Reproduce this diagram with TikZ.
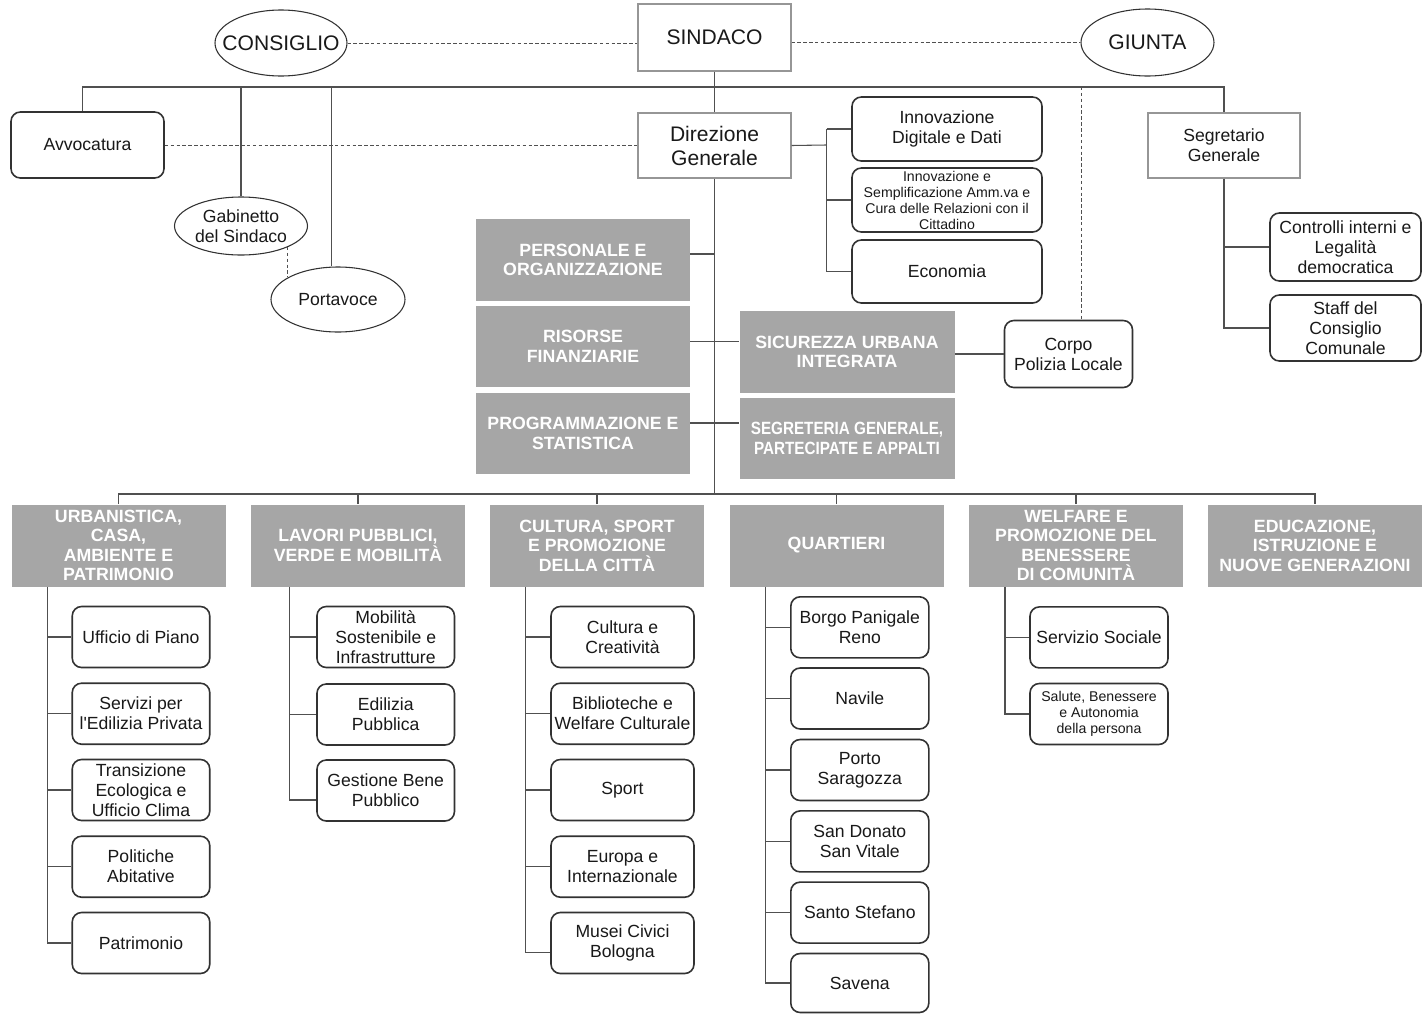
\documentclass[tikz,border=0pt]{standalone}
\usepackage{fontspec}
\setmainfont{Liberation Sans}
\newfontfamily\condfont[FakeStretch=0.86]{Liberation Sans}
\usetikzlibrary{shapes.geometric}
\definecolor{linec}{RGB}{80,80,80}
\definecolor{boxc}{RGB}{50,50,50}
\definecolor{plainc}{RGB}{150,150,150}
\definecolor{hdr}{RGB}{166,166,166}
\definecolor{txt}{RGB}{25,25,25}
\tikzset{
  conn/.style={draw=linec, line width=0.8pt},
  dline/.style={draw=linec, line width=0.6pt, dash pattern=on 2.6pt off 1.8pt},
  sz/.style 2 args={minimum width=#1*0.75pt, minimum height=#2*0.75pt},
  normfont/.style={font=\fontsize{13.2}{15}\selectfont},
  bigfont/.style={font=\fontsize{15.8}{18}\selectfont},
  smallfont/.style={font=\fontsize{10.6}{12}\selectfont},
  plainbox/.style={rectangle, draw=plainc, line width=0.8pt, inner sep=0pt, align=center, text=txt, normfont},
  rbox/.style={rectangle, draw=boxc, line width=1.2pt, rounded corners=7pt, inner sep=0pt, align=center, text=txt, normfont},
  gbox/.style={rectangle, fill=hdr, inner sep=0pt, align=center, text=white, font=\bfseries\fontsize{13.3}{14.6}\selectfont},
  ell/.style={ellipse, draw=boxc, line width=0.8pt, inner xsep=-12pt, inner ysep=0pt, align=center, text=txt, normfont},
}
\begin{document}
\begin{tikzpicture}[x=0.75pt,y=-0.75pt]
\fill[white] (0,0) rectangle (1422,1014);
\useasboundingbox (0,0) rectangle (1422,1014);

% ---------- top ----------
\node[plainbox, bigfont, sz={153}{67}] (sind) at (714.5,37.5) {SINDACO};
\node[ell, bigfont, sz={132}{66}] (cons) at (281,43) {CONSIGLIO};
\node[ell, bigfont, sz={133}{67}] (giun) at (1147.5,42.5) {GIUNTA};
\node[plainbox, bigfont, sz={153}{65}] (dirg) at (714.5,145.5) {Direzione\\Generale};
\node[rbox, sz={153}{66}] (avv) at (87.5,145) {Avvocatura};
\node[ell, sz={133}{58}] (gab) at (241,226) {Gabinetto\\del Sindaco};
\node[ell, sz={134}{65}] (port) at (338,299.5) {Portavoce};
\node[rbox, sz={190}{64}] (inn1) at (947,129) {Innovazione\\Digitale e Dati};
\node[rbox, smallfont, sz={190}{64}] (inn2) at (947,200) {Innovazione e\\Semplificazione Amm.va e\\Cura delle Relazioni con il\\Cittadino};
\node[rbox, sz={190}{63}] (eco) at (947,271.5) {Economia};
\node[plainbox, sz={152}{65}] (seg) at (1224,145.5) {Segretario\\Generale};
\node[rbox, sz={151}{68}] (ctrl) at (1345.5,247) {Controlli interni e\\Legalità\\democratica};
\node[rbox, sz={151}{66}] (staff) at (1345.5,328) {Staff del\\Consiglio\\Comunale};

% ---------- middle ----------
\node[gbox, sz={214}{82}] (pers) at (583,260) {PERSONALE E\\ORGANIZZAZIONE};
\node[gbox, sz={214}{81}] (ris) at (583,346.5) {RISORSE\\FINANZIARIE};
\node[gbox, sz={214}{81}] (prog) at (583,433.5) {PROGRAMMAZIONE E\\STATISTICA};
\node[gbox, sz={215}{82}] (sic) at (847,352) {SICUREZZA URBANA\\INTEGRATA};
\node[gbox, sz={215}{81}, font=\condfont\bfseries\fontsize{13.3}{15}\selectfont] (segr) at (847,438.5) {SEGRETERIA GENERALE,\\PARTECIPATE E APPALTI};
\node[rbox, sz={128}{67}] (corpo) at (1068.5,354) {Corpo\\Polizia Locale};

% ---------- bottom headers ----------
\node[gbox, sz={214}{82}] (urb) at (118.5,545.5) {URBANISTICA,\\CASA,\\AMBIENTE E\\PATRIMONIO};
\node[gbox, sz={214}{82}] (lav) at (358,545.5) {LAVORI PUBBLICI,\\VERDE E MOBILITÀ};
\node[gbox, sz={214}{82}] (cul) at (597,545.5) {CULTURA, SPORT\\E PROMOZIONE\\DELLA CITTÀ};
\node[gbox, sz={214}{82}] (qua) at (836.5,545.5) {QUARTIERI};
\node[gbox, sz={214}{82}] (wel) at (1076,545.5) {WELFARE E\\PROMOZIONE DEL\\BENESSERE\\DI COMUNITÀ};
\node[gbox, sz={214}{82}] (edu) at (1315,545.5) {EDUCAZIONE,\\ISTRUZIONE E\\NUOVE GENERAZIONI};

% ---------- sub boxes ----------
\node[rbox, sz={137.5}{61}] (up) at (141,637) {Ufficio di Piano};
\node[rbox, sz={137.5}{61}] (sep) at (141,713.7) {Servizi per\\l\textquotesingle Edilizia Privata};
\node[rbox, sz={137.5}{61}] (tran) at (141,790) {Transizione\\Ecologica e\\Ufficio Clima};
\node[rbox, sz={137.5}{61}] (pol) at (141,866.7) {Politiche\\Abitative};
\node[rbox, sz={137.5}{61}] (pat) at (141,943) {Patrimonio};

\node[rbox, sz={137.5}{61}] (mob) at (385.7,637) {Mobilità\\Sostenibile e\\Infrastrutture};
\node[rbox, sz={137.5}{61}] (edp) at (385.7,714.5) {Edilizia\\Pubblica};
\node[rbox, sz={137.5}{61}] (gbp) at (385.7,790.5) {Gestione Bene\\Pubblico};

\node[rbox, sz={143}{61}] (cc) at (622.5,637) {Cultura e\\Creatività};
\node[rbox, sz={143}{61}] (bib) at (622.5,713.7) {Biblioteche e\\Welfare Culturale};
\node[rbox, sz={143}{61}] (spo) at (622.5,790) {Sport};
\node[rbox, sz={143}{61}] (eur) at (622.5,866.7) {Europa e\\Internazionale};
\node[rbox, sz={143}{61}] (mus) at (622.5,943) {Musei Civici\\Bologna};

\node[rbox, sz={138}{61}] (borgo) at (859.8,627.3) {Borgo Panigale\\Reno};
\node[rbox, sz={138}{61}] (nav) at (859.8,698.5) {Navile};
\node[rbox, sz={138}{61}] (porto) at (859.8,770) {Porto\\Saragozza};
\node[rbox, sz={138}{61}] (sdon) at (859.8,841.4) {San Donato\\San Vitale};
\node[rbox, sz={138}{61}] (sst) at (859.8,912.6) {Santo Stefano};
\node[rbox, sz={138}{59}] (sav) at (859.8,983) {Savena};

\node[rbox, sz={138}{61}] (ss) at (1099,637.4) {Servizio Sociale};
\node[rbox, smallfont, sz={138}{61}] (sal) at (1099,714) {Salute, Benessere\\e Autonomia\\della persona};

% ---------- connectors: top ----------
\draw[dline] (cons.east) -- (sind.west |- cons.east);
\draw[dline] (sind.east |- giun.west) -- (giun.west);
\coordinate (bL) at (82.6,87);
\coordinate (bR) at (1224,87);
\draw[conn] (avv.north -| bL) -- (bL) -- (bR) -- (seg.north);
\draw[conn] (sind.south) -- (dirg.north);
\draw[conn] (gab.north) -- (gab.north |- bL);
\coordinate (pv) at (331.5,87);
\draw[conn] (pv) -- (pv |- port.north);
\draw[dline] ([shift={(46,20.9)}]gab.center) -- ([shift={(-51,-23)}]port.center);
\draw[dline] (avv.east) -- (dirg.west |- avv.east);

\coordinate (br) at (826.6,145);
\draw[conn] (dirg.east) -- (br);
\draw[conn] (br |- inn1.west) -- (br |- eco.west);
\draw[conn] (br |- inn1.west) -- (inn1.west);
\draw[conn] (br |- inn2.west) -- (inn2.west);
\draw[conn] (br |- eco.west) -- (eco.west);

\coordinate (cp) at (1081,87);
\draw[dline] (cp) -- (cp |- corpo.north);
\draw[conn] (corpo.west -| sic.east) -- (corpo.west);

\draw[conn] (seg.south) -- (seg.south |- staff.west) -- (staff.west);
\draw[conn] (seg.south |- ctrl.west) -- (ctrl.west);

% ---------- connectors: middle ----------
\coordinate (mb) at (714.5,494);
\draw[conn] (dirg.south) -- (mb);
\draw[conn] ([yshift=4.5pt]pers.east) -- ([yshift=4.5pt]pers.east -| mb);
\draw[conn] ([yshift=3.6pt]ris.east) -- ([yshift=3.6pt]ris.east -| sic.west);
\draw[conn] ([yshift=7.9pt]prog.east) -- ([yshift=7.9pt]prog.east -| segr.west);

% ---------- bottom bus ----------
\draw[conn] (urb.north) -- (urb.north |- mb) -- (edu.north |- mb) -- (edu.north);
\draw[conn] (lav.north) -- (lav.north |- mb);
\draw[conn] (cul.north) -- (cul.north |- mb);
\draw[conn] (qua.north) -- (qua.north |- mb);
\draw[conn] (wel.north) -- (wel.north |- mb);

% urbanistica
\coordinate (ux) at (47.3,0);
\draw[conn] (ux |- urb.south) -- (ux |- pat.west) -- (pat.west);
\foreach \n in {up,sep,tran,pol} \draw[conn] (ux |- \n.west) -- (\n.west);
% lavori
\coordinate (lx) at (289.5,0);
\coordinate (gbs) at (289.5,800);
\draw[conn] (lx |- lav.south) -- (gbs) -- (gbp.west |- gbs);
\foreach \n in {mob,edp} \draw[conn] (lx |- \n.west) -- (\n.west);
% cultura
\coordinate (cx) at (525.7,0);
\coordinate (ms) at (525.7,952.7);
\draw[conn] (cx |- cul.south) -- (ms) -- (mus.west |- ms);
\foreach \n in {cc,bib,spo,eur} \draw[conn] (cx |- \n.west) -- (\n.west);
% quartieri
\coordinate (qx) at (765.8,0);
\draw[conn] (qx |- qua.south) -- (qx |- sav.west) -- (sav.west);
\foreach \n in {borgo,nav,porto,sdon,sst} \draw[conn] (qx |- \n.west) -- (\n.west);
% welfare
\coordinate (wx) at (1005,0);
\draw[conn] (wx |- wel.south) -- (wx |- sal.west) -- (sal.west);
\draw[conn] (wx |- ss.west) -- (ss.west);
\end{tikzpicture}
\end{document}
